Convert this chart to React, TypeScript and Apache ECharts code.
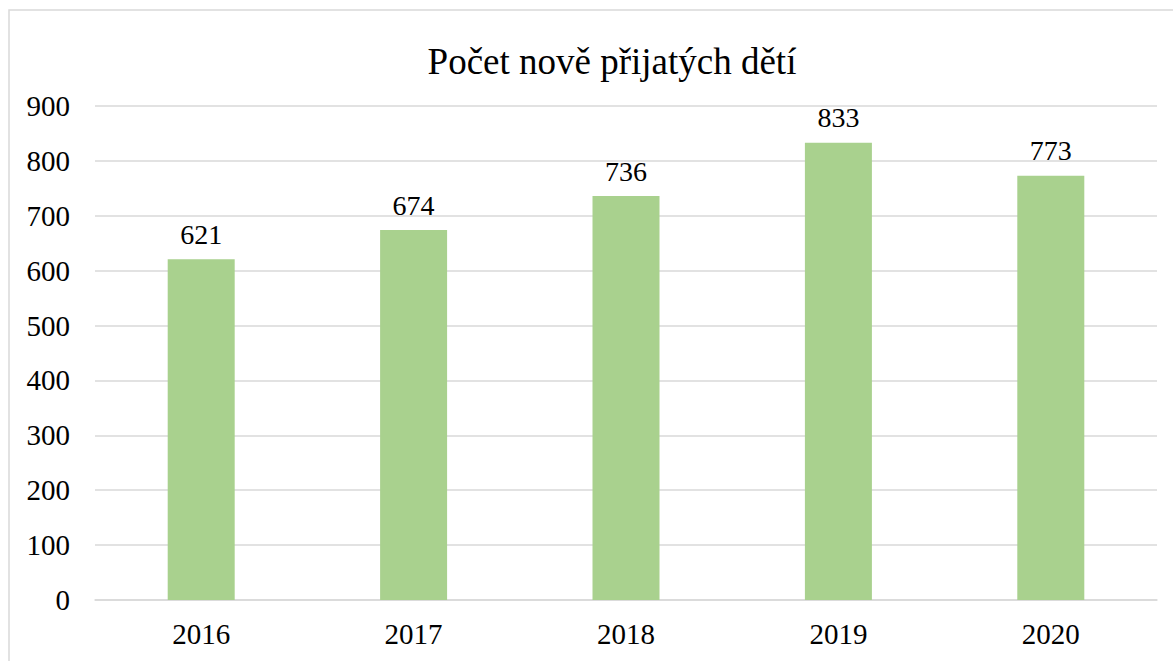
import React, { useEffect, useRef } from "react";
import * as echarts from "echarts";

const years = ["2016", "2017", "2018", "2019", "2020"];
const values = [621, 674, 736, 833, 773];
const titleText = "Počet nově přijatých dětí";

export default function App() {
  const ref = useRef<HTMLDivElement>(null);
  useEffect(() => {
    if (!ref.current) return;
    const chart = echarts.init(ref.current, null, { renderer: "svg" });
    const font = "'Liberation Serif', 'Times New Roman', serif";
    chart.setOption({
      animation: false,
      backgroundColor: "#ffffff",
      title: {
        text: titleText,
        left: 607,
        textAlign: "center",
        top: 38,
        textStyle: { fontFamily: font, fontSize: 37, fontWeight: "normal", color: "#000" },
      },
      graphic: [
        {
          type: "rect",
          shape: { x: 9, y: 10, width: 1200, height: 700 },
          style: { fill: "none", stroke: "#d9d9d9", lineWidth: 1.5 },
          silent: true,
        },
      ],
      grid: { left: 95, right: 16, top: 106, bottom: 61, containLabel: false },
      xAxis: {
        type: "category",
        data: years,
        axisLine: { lineStyle: { color: "#d9d9d9", width: 1.5 } },
        axisTick: { show: false },
        axisLabel: { fontFamily: font, fontSize: 29, color: "#000", margin: 19 },
      },
      yAxis: {
        type: "value",
        min: 0,
        max: 900,
        interval: 100,
        axisLine: { show: false },
        axisTick: { show: false },
        splitLine: { lineStyle: { color: "#d9d9d9", width: 1.5 } },
        axisLabel: { fontFamily: font, fontSize: 29, color: "#000", margin: 25 },
      },
      series: [
        {
          type: "bar",
          data: values,
          barWidth: 67,
          itemStyle: { color: "#a9d18e" },
          label: {
            show: true,
            position: "top",
            distance: 11,
            fontFamily: font,
            fontSize: 28,
            color: "#000",
          },
        },
      ],
    });
    return () => chart.dispose();
  }, []);
  return (
    <div
      ref={ref}
      style={{ position: "absolute", left: 0, top: 0, width: 1173, height: 661 }}
    />
  );
}
